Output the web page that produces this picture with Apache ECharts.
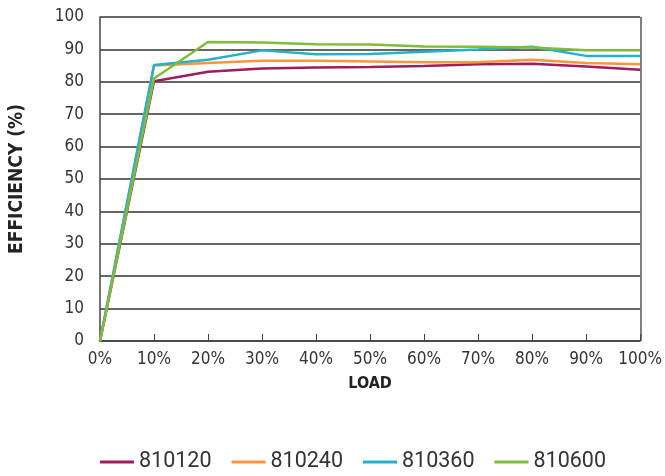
<!DOCTYPE html>
<html><head><meta charset="utf-8">
<script src="https://cdn.jsdelivr.net/npm/echarts@6/dist/echarts.min.js"></script>
<style>html,body{margin:0;padding:0;background:#fff}#c{width:665px;height:476px}</style>
</head><body><div id="c"></div>
<script>
const categories = ['0%','10%','20%','30%','40%','50%','60%','70%','80%','90%','100%'];
const s810120 = [0, 80.2, 83.1, 84.1, 84.4, 84.6, 84.9, 85.4, 85.6, 84.7, 83.7];
const s810240 = [0, 85.0, 85.8, 86.5, 86.5, 86.3, 86.0, 86.0, 86.8, 85.8, 85.4];
const s810360 = [0, 85.2, 86.8, 89.7, 88.5, 88.6, 89.3, 90.0, 90.8, 88.0, 88.0];
const s810600 = [0, 81.0, 92.3, 92.1, 91.6, 91.5, 90.9, 90.8, 90.6, 89.7, 89.7];
const yTicks = [0,10,20,30,40,50,60,70,80,90,100];

const cond = '"DejaVu Sans Condensed", "Liberation Sans Narrow", sans-serif';
const legendFont = 'Roboto, "Noto Sans", sans-serif';
const names = ['810120','810240','810360','810600'];
const colors = ['#9e1d5f','#f8953e','#25b1c8','#7ebc3a'];
const data = [s810120, s810240, s810360, s810600];

const chart = echarts.init(document.getElementById('c'));
chart.setOption({
  animation: false,
  grid: {left: 100, right: 24, top: 17, bottom: 135, containLabel: false},
  legend: {
    top: 450, left: 100, padding: 0, itemGap: 20, itemWidth: 34, itemHeight: 3,
    icon: 'rect',
    textStyle: {fontFamily: legendFont, fontSize: 21.5, lineHeight: 24, color: '#333'},
    data: names
  },
  xAxis: {
    type: 'category', data: categories, boundaryGap: false,
    name: 'LOAD', nameLocation: 'middle', nameGap: 35,
    nameTextStyle: {fontFamily: cond, fontWeight: 'bold', fontSize: 16, color: '#222'},
    axisLine: {lineStyle: {color: '#444', width: 1.5}},
    axisTick: {inside: true, length: 7, interval: 0, lineStyle: {color: '#444'}},
    axisLabel: {fontFamily: cond, fontSize: 17, color: '#333', margin: 10, interval: 0},
    splitLine: {show: false}
  },
  yAxis: {
    type: 'value', min: 0, max: 100, interval: 10,
    name: 'EFFICIENCY (%)', nameLocation: 'middle', nameGap: 73, nameRotate: 90,
    nameTextStyle: {fontFamily: cond, fontWeight: 'bold', fontSize: 19, color: '#222'},
    axisLine: {show: true, lineStyle: {color: '#444', width: 1.5}},
    axisTick: {show: false},
    axisLabel: {fontFamily: cond, fontSize: 17, color: '#333', margin: 16,
      formatter: v => yTicks.includes(v) ? String(v) : ''},
    splitLine: {show: true, lineStyle: {color: '#333', width: 1.5}}
  },
  series: names.map((n, i) => ({
    name: n, type: 'line', data: data[i], symbol: 'none',
    lineStyle: {color: colors[i], width: 2.5}, itemStyle: {color: colors[i]}
  })),
  graphic: [{type: 'line', shape: {x1: 641, y1: 17, x2: 641, y2: 341}, style: {stroke: '#555', lineWidth: 1.5}}]
});
</script></body></html>
